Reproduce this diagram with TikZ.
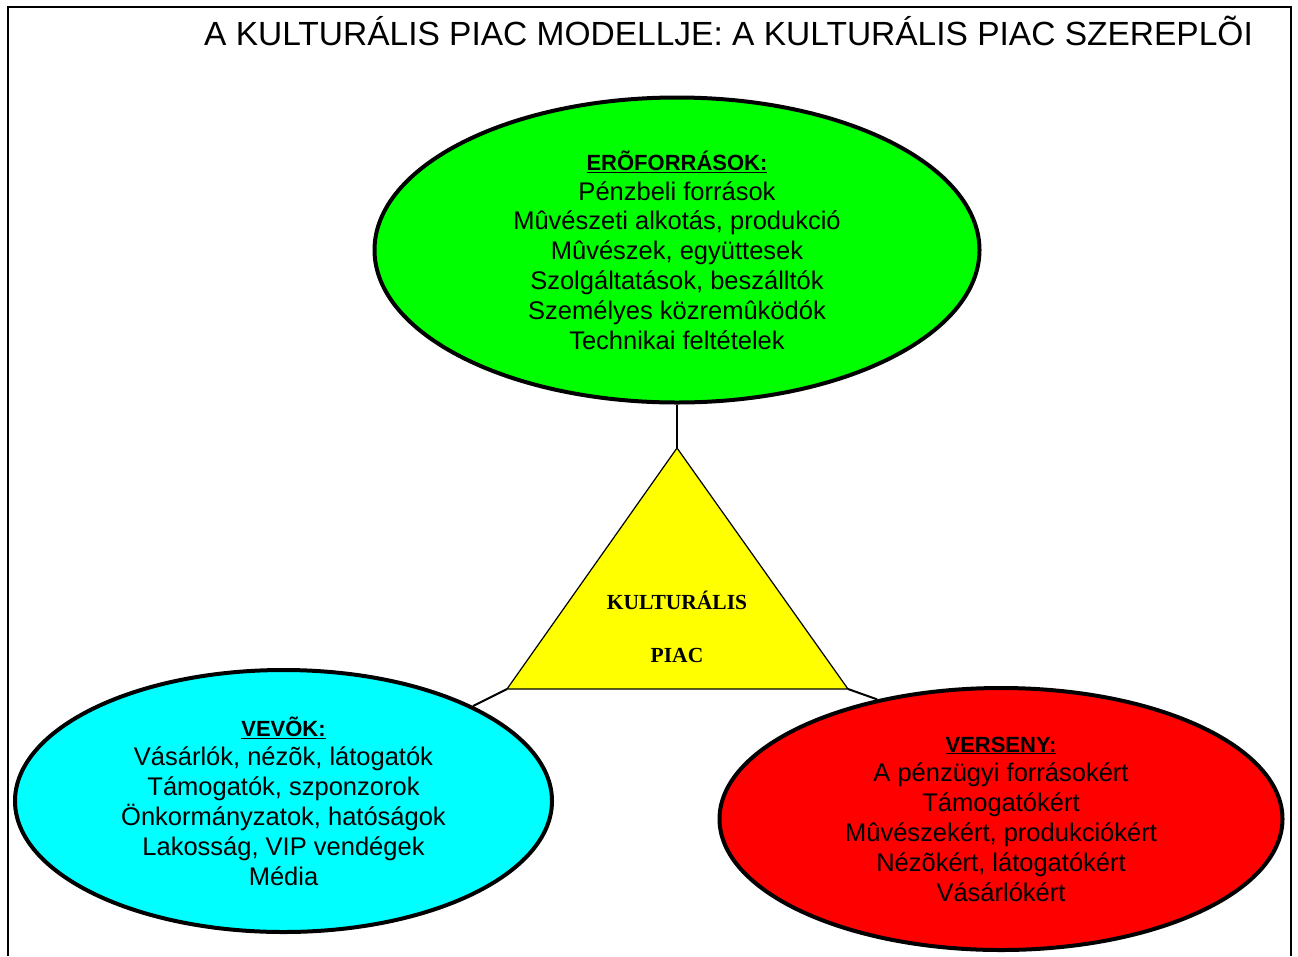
\documentclass[tikz,border=0pt]{standalone}
\usepackage{fontspec}
\setmainfont{Liberation Sans}
\newfontfamily\timesfont{Liberation Serif}
\usetikzlibrary{shapes.geometric,positioning}
\tikzset{>=stealth}
\definecolor{zold}{rgb}{0,1,0}
\definecolor{kek}{rgb}{0,1,1}
\definecolor{piros}{rgb}{1,0,0}
\definecolor{sarga}{rgb}{1,1,0}
\tikzset{
  szereplo/.style={ellipse, draw=black, line width=4pt, inner sep=0pt, align=center,
    font=\fontsize{25.5}{29.8}\selectfont},
  kapcsolat/.style={draw=black, line width=2pt},
}
\newcommand{\fejlec}[1]{{\fontsize{22}{28}\selectfont\bfseries\underline{#1}}}

\begin{document}
\begin{tikzpicture}[x=1pt,y=-1pt]
\useasboundingbox (0,0) rectangle (1298,956);
\draw[line width=2.5pt] (8,956) -- (8,7) -- (1291,7) -- (1291,956);

\node[anchor=base, font=\fontsize{33.5}{40}\selectfont] (cim) at (728.5,45)
  {A KULTURÁLIS PIAC MODELLJE: A KULTURÁLIS PIAC SZEREPLÕI};

% eroforrasok
\node[szereplo, fill=zold, minimum width=605pt, minimum height=305pt] (eroforras) at (677,250)
  {\fejlec{ERÕFORRÁSOK:}\\ Pénzbeli források\\ Mûvészeti alkotás, produkció\\
   Mûvészek, együttesek\\ Szolgáltatások, beszálltók\\ Személyes közremûködók\\
   Technikai feltételek};

% vevok
\node[szereplo, fill=kek, minimum width=537pt, minimum height=262pt] (vevok) at (283.5,801)
  {\fejlec{VEVÕK:}\\ Vásárlók, nézõk, látogatók\\ Támogatók, szponzorok\\
   Önkormányzatok, hatóságok\\ Lakosság, VIP vendégek\\ Média};

% verseny
\node[szereplo, fill=piros, minimum width=563pt, minimum height=262pt] (verseny) at (1001,819)
  {\fejlec{VERSENY:}\\ A pénzügyi forrásokért\\ Támogatókért\\
   Mûvészekért, produkciókért\\ Nézõkért, látogatókért\\ Vásárlókért};

% piac haromszog
\coordinate (csucs) at (677,448);
\coordinate (balalso) at (507,689);
\coordinate (jobbalso) at (848,689);
\filldraw[fill=sarga, draw=black, line width=1.2pt] (csucs) -- (balalso) -- (jobbalso) -- cycle;
\node[anchor=base, font=\timesfont\bfseries\fontsize{21.5}{26}\selectfont] (kult) at (677,609) {KULTURÁLIS};
\node[font=\timesfont\bfseries\fontsize{21.5}{26}\selectfont, below=53pt of kult.base, anchor=base] (piac) {PIAC};

\draw[kapcsolat] (eroforras) -- (csucs);
\draw[kapcsolat] (balalso) -- (vevok);
\draw[kapcsolat] (jobbalso) -- (verseny.136);
\end{tikzpicture}
\end{document}
